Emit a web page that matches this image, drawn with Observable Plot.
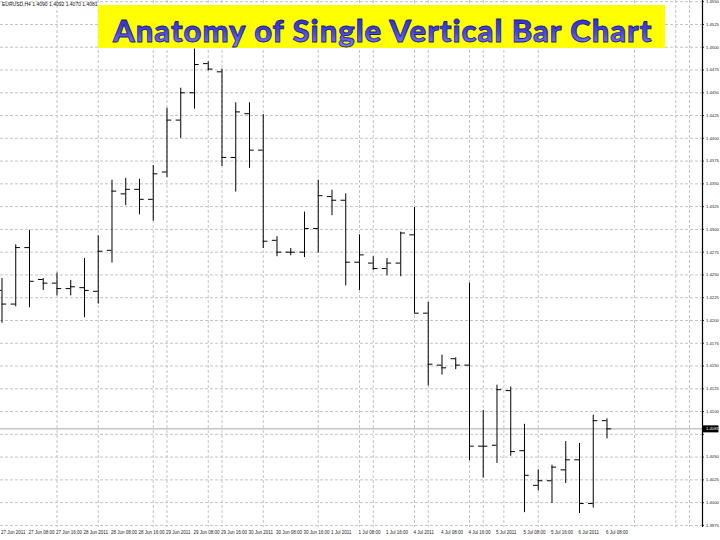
<!DOCTYPE html>
<html>
<head>
<meta charset="utf-8">
<script src="https://cdn.jsdelivr.net/npm/d3@7"></script>
<script src="https://cdn.jsdelivr.net/npm/@observablehq/plot@0.6"></script>
<style>
  html, body { margin: 0; padding: 0; background: #ffffff; }
  #wrap { position: relative; width: 720px; height: 540px; overflow: hidden; }
  #title { position: absolute; left: 98px; top: 5px; width: 567px; height: 43px; background: #ffff00; }
  #info { position: absolute; left: 2px; top: 1px; font: 5px "Liberation Sans", sans-serif; color: #111; white-space: nowrap; }
</style>
</head>
<body>
<div id="wrap">
  <div id="chart"></div>
  <div id="title">
    <svg width="567" height="43">
      <defs>
        <linearGradient id="tg" x1="0" y1="0" x2="0" y2="1">
          <stop offset="0" stop-color="#2424c8"/>
          <stop offset="0.55" stop-color="#4646e4"/>
          <stop offset="1" stop-color="#8a8aff"/>
        </linearGradient>
      </defs>
      <text id="titleText" x="15" y="37"
        font-family="Lato, 'Open Sans', sans-serif" font-weight="900" font-size="31"
        fill="url(#tg)" stroke="#1c1c7a" stroke-width="0.8"></text>
    </svg>
  </div>
  <div id="info"></div>
</div>
<script>
const titleText = "Anatomy of Single Vertical Bar Chart";
const symbol = "EURUSD,H4";

const open  = [1.4233,1.4218,1.4280,1.4245,1.4241,1.4235,1.4236,1.4232,1.4277,1.4339,1.4344,1.4333,1.4363,1.4420,1.4450,1.4482,1.4473,1.4379,1.4427,1.4387,1.4288,1.4275,1.4275,1.4301,1.4336,1.4332,1.4264,1.4263,1.4257,1.4263,1.4294,1.4208,1.4151,1.4158,1.4151,1.4062,1.4063,1.4123,1.4057,1.4019,1.4024,1.4036,1.4047,1.3999,1.4090];
const high  = [1.4246,1.4283,1.4299,1.4246,1.4252,1.4244,1.4268,1.4293,1.4354,1.4356,1.4355,1.4370,1.4433,1.4455,1.4498,1.4484,1.4476,1.4439,1.4439,1.4426,1.4292,1.4279,1.4319,1.4354,1.4343,1.4339,1.4294,1.4270,1.4268,1.4297,1.4324,1.4220,1.4162,1.4159,1.4241,1.4101,1.4129,1.4127,1.4086,1.4036,1.4041,1.4067,1.4065,1.4096,1.4092];
const low   = [1.4197,1.4215,1.4214,1.4233,1.4227,1.4227,1.4203,1.4218,1.4263,1.4326,1.4316,1.4309,1.4357,1.4400,1.4432,1.4474,1.4369,1.4341,1.4367,1.4279,1.4270,1.4271,1.4269,1.4274,1.4315,1.4238,1.4233,1.4255,1.4249,1.4248,1.4208,1.4128,1.4140,1.4146,1.4046,1.4027,1.4043,1.4051,1.3989,1.4013,1.3999,1.4021,1.3988,1.3994,1.4070];
const close = [1.4218,1.4280,1.4243,1.4241,1.4235,1.4237,1.4233,1.4276,1.4342,1.4344,1.4333,1.4361,1.4420,1.4450,1.4481,1.4476,1.4379,1.4429,1.4387,1.4287,1.4275,1.4275,1.4301,1.4337,1.4332,1.4264,1.4272,1.4257,1.4263,1.4296,1.4208,1.4152,1.4148,1.4151,1.4062,1.4062,1.4124,1.4056,1.4030,1.4024,1.4039,1.4047,1.3999,1.4090,1.4081];

const priceTicks = [1.4550,1.4525,1.4500,1.4475,1.4450,1.4425,1.4400,1.4375,1.4350,1.4325,1.4300,1.4275,1.4250,1.4225,1.4200,1.4175,1.4150,1.4125,1.4100,1.4075,1.4050,1.4025,1.4000,1.3975];

const dateTickBars = [0,2,4,6,8,10,12,14,16,18,20,22,24,26,28,30,32,34,36,38,40,42,44];
const dateTickLabels = ["27 Jun 2011","27 Jun 08:00","27 Jun 16:00","28 Jun 2011","28 Jun 08:00","28 Jun 16:00",
  "29 Jun 2011","29 Jun 08:00","29 Jun 16:00","30 Jun 2011","30 Jun 08:00","30 Jun 16:00",
  "1 Jul 2011","1 Jul 08:00","1 Jul 16:00","4 Jul 2011","4 Jul 08:00","4 Jul 16:00",
  "5 Jul 2011","5 Jul 08:00","5 Jul 16:00","6 Jul 2011","6 Jul 08:00"];

const separatorBars = [4,7,11,12,15,16,19,23,26,27,30,31,34,35,36.5,39,46,49,50];

const bars = open.map((o, i) => ({i, open: o, high: high[i], low: low[i], close: close[i]}));
const last = bars[bars.length - 1];

const xMin = -0.109, xMax = 50.9455;
const yMin = 1.39727, yMax = 1.45513;
const tickLen = 0.34;
const fmt = d3.format(".4f");

// Title: pick a size that fits the banner naturally, then spread letters to the span
const tEl = document.getElementById("titleText");
tEl.textContent = titleText;
const target = 539;
let fs = 31;
let w = tEl.getComputedTextLength() || target;
if (w > target) {
  fs = 31 * target / w;
  tEl.setAttribute("font-size", fs);
  w = tEl.getComputedTextLength() || target;
}
if (w < target - 2) {
  tEl.setAttribute("letter-spacing", ((target - w) / (titleText.length - 1)).toFixed(2));
}

document.getElementById("info").textContent =
  `${symbol}  ${fmt(last.open)} ${fmt(last.high)} ${fmt(last.low)} ${fmt(last.close)}`;

const labelOf = new Map(dateTickBars.map((b, k) => [b, dateTickLabels[k]]));

const chart = Plot.plot({
  width: 720,
  height: 540,
  marginLeft: 0,
  marginRight: 18,
  marginTop: 0,
  marginBottom: 13,
  x: {domain: [xMin, xMax], axis: null},
  y: {domain: [yMin, yMax], axis: null},
  style: {fontFamily: "Liberation Sans", fontSize: "5px", background: "#ffffff", overflow: "visible"},
  marks: [
    Plot.ruleY(priceTicks, {stroke: "#c4c4c4", strokeDasharray: "3,2", x1: xMin, x2: xMax}),
    Plot.ruleX(separatorBars, {stroke: "#c4c4c4", strokeDasharray: "3,2"}),
    Plot.ruleY([last.close], {stroke: "#a8a8a8", x1: xMin, x2: xMax}),
    Plot.ruleX(bars, {x: "i", y1: "low", y2: "high", stroke: "#000"}),
    Plot.ruleY(bars, {y: "open", x1: d => d.i - tickLen, x2: "i", stroke: "#000"}),
    Plot.ruleY(bars, {y: "close", x1: "i", x2: d => d.i + tickLen, stroke: "#000"}),
    Plot.ruleX([xMax], {stroke: "#000", strokeWidth: 1.2}),
    Plot.ruleY(priceTicks, {x1: xMax, x2: xMax + 0.13, stroke: "#000"}),
    Plot.text(priceTicks.filter(p => Math.abs(p - last.close) > 0.0008), {y: d => d, frameAnchor: "right", dx: 3.5, textAnchor: "start",
      text: d => fmt(d), fill: "#222", fontSize: 4.2}),
    Plot.ruleY([last.close], {x1: xMax + 0.05, x2: xMax + 1.2, stroke: "#000", strokeWidth: 7}),
    Plot.text([last.close], {y: d => d, frameAnchor: "right", dx: 3.5, textAnchor: "start",
      text: d => fmt(d), fill: "#fff", fontSize: 4.2}),
    Plot.text(dateTickBars, {x: d => d, frameAnchor: "bottom", dy: 6, textAnchor: "start",
      dx: -1, text: d => labelOf.get(d), fill: "#222", fontSize: 4.5})
  ]
});
document.getElementById("chart").appendChild(chart);
</script>
</body>
</html>
